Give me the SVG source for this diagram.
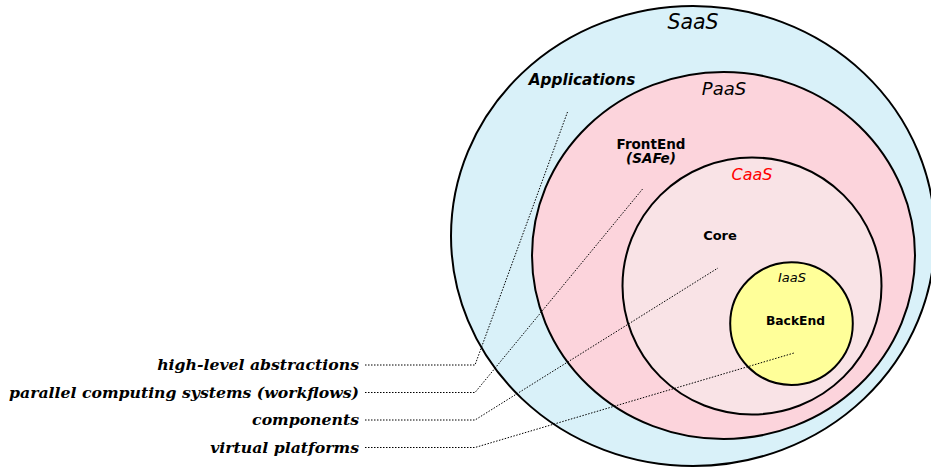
<svg xmlns="http://www.w3.org/2000/svg" width="931" height="468" viewBox="0 0 931 468">
  <style>
    .ring { stroke: #000; stroke-width: 2; }
    .lead { fill: none; stroke: #000; stroke-width: 1; stroke-dasharray: 1.5 1.5; }
    .sans { font-family: "DejaVu Sans", "Liberation Sans", sans-serif; text-anchor: middle; }
    .it { font-style: italic; }
    .b { font-weight: bold; }
    .note { font-family: "DejaVu Serif", "Liberation Serif", serif; font-weight: bold; font-style: italic; font-size: 15.7px; text-anchor: end; }
  </style>
  <rect width="931" height="468" fill="#fff"/>

  <g id="saas">
    <ellipse class="ring" cx="693" cy="236" rx="242" ry="230" fill="#d9f1f9"/>
    <text class="sans it" x="693" y="29" font-size="20.5">SaaS</text>
    <text class="sans b it" x="582" y="84.5" font-size="15.3">Applications</text>
  </g>

  <g id="paas">
    <ellipse class="ring" cx="723.5" cy="255.5" rx="191.5" ry="183.5" fill="#fcd4dc"/>
    <text class="sans it" x="724" y="95" font-size="18">PaaS</text>
    <text class="sans b" x="651" y="148.5" font-size="13.5">FrontEnd</text>
    <text class="sans b it" x="651" y="163" font-size="13.5">(SAFe)</text>
  </g>

  <g id="caas">
    <ellipse class="ring" cx="752" cy="286" rx="129.5" ry="128.5" fill="#f9e3e6"/>
    <text class="sans it" x="752" y="180" font-size="16" fill="#ff0000">CaaS</text>
    <text class="sans b" x="720" y="239.5" font-size="13">Core</text>
  </g>

  <g id="iaas">
    <circle class="ring" cx="791.5" cy="323.6" r="61.3" fill="#ffff99"/>
    <text class="sans it" x="792" y="282" font-size="13">IaaS</text>
    <text class="sans b" x="795.5" y="324.5" font-size="12.3">BackEnd</text>
  </g>

  <g id="leaders">
    <polyline class="lead" points="365,365 475,365 567.5,112"/>
    <polyline class="lead" points="365,392.5 475,392.5 643,188.5"/>
    <polyline class="lead" points="365,420 475,420 718,268"/>
    <polyline class="lead" points="365,447.5 475,447.5 794,353"/>
  </g>

  <g id="notes">
    <text class="note" x="359" y="370">high-level abstractions</text>
    <text class="note" x="359" y="397.5">parallel computing systems (workflows)</text>
    <text class="note" x="359" y="425">components</text>
    <text class="note" x="359" y="452.5">virtual platforms</text>
  </g>
</svg>
